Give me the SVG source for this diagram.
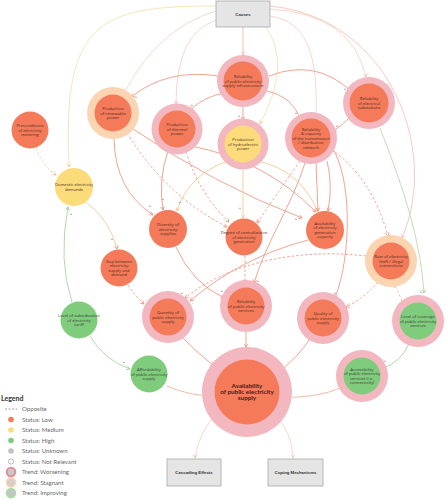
<svg xmlns="http://www.w3.org/2000/svg" width="446" height="500" viewBox="0 0 446 500">
<style>
.e{fill:none;stroke-width:0.9}
.o{stroke:#f09a84}
.p{stroke:#f6d2c7}
.py{stroke:#f5e2b4}
.g{stroke:#a6d69f}
.y{stroke:#f4c996}
.d{stroke-dasharray:2.5,2}
.ring-w{fill:#f3b7c0}
.ring-s{fill:#fbd5b2}
.low{fill:#f47a59}
.med{fill:#fcdc7a}
.high{fill:#80cc7d}
.t{font-family:"Open Sans","DejaVu Sans",sans-serif;font-size:4.2px;fill:#4d2c25;text-anchor:middle}
.tg{fill:#3a3a3a}
.tm{font-family:Lato,"Liberation Sans",sans-serif;font-size:6.3px;font-weight:bold;fill:#3d1f18;text-anchor:middle}
.box{fill:#e5e5e5;stroke:#a8a8a8;stroke-width:0.8}
.bt{font-family:"Liberation Sans",Arial,sans-serif;font-size:4.3px;font-weight:bold;fill:#333;text-anchor:middle}
.s{font-family:"Liberation Sans",Arial,sans-serif;font-size:4px;fill:#444;text-anchor:middle}
.lg{font-family:Lato,"Liberation Sans",sans-serif;font-size:6.1px;fill:#6a6a6a}
</style>
<defs>
<marker id="ao" viewBox="0 0 6 6" refX="5" refY="3" markerWidth="5" markerHeight="5" markerUnits="userSpaceOnUse" orient="auto"><path d="M1,0.8 L5,3 L1,5.2" fill="none" stroke="#ee8e76" stroke-width="0.9"/></marker>
<marker id="ap" viewBox="0 0 6 6" refX="5" refY="3" markerWidth="5" markerHeight="5" markerUnits="userSpaceOnUse" orient="auto"><path d="M1,0.8 L5,3 L1,5.2" fill="none" stroke="#f0b9a9" stroke-width="0.9"/></marker>
<marker id="ay" viewBox="0 0 6 6" refX="5" refY="3" markerWidth="5" markerHeight="5" markerUnits="userSpaceOnUse" orient="auto"><path d="M1,0.8 L5,3 L1,5.2" fill="none" stroke="#f2c486" stroke-width="0.9"/></marker>
<marker id="ag" viewBox="0 0 6 6" refX="5" refY="3" markerWidth="5" markerHeight="5" markerUnits="userSpaceOnUse" orient="auto"><path d="M1,0.8 L5,3 L1,5.2" fill="none" stroke="#8fcc88" stroke-width="0.9"/></marker>
</defs>
<rect width="446" height="500" fill="#ffffff"/>

<g id="connectors">
<path class="e p" d="M243,27 L243,55" marker-end="url(#ap)" style="stroke:#f3b9a8"/>
<path class="e p" d="M216,11 Q158,28 124,93" marker-end="url(#ap)"/>
<path class="e p" d="M217,20 Q176,32 176,104" marker-end="url(#ap)"/>
<path class="e py" d="M216,6 C100,6 62,20 69,167" marker-end="url(#ay)"/>
<path class="e py" d="M266,27 Q292,65 260,124" marker-end="url(#ay)"/>
<path class="e p" d="M270,16 C308,22 318,55 316,119" marker-end="url(#ap)"/>
<path class="e p" d="M270,9 Q352,14 366,77" marker-end="url(#ap)"/>
<path class="e p" d="M270,6 C390,18 440,150 402,238" marker-end="url(#ap)" style="stroke:#f4c4b6"/>
<path class="e g" d="M380,128 C398,175 420,232 424,293" marker-end="url(#ag)" style="stroke:#bcd8ad"/>
<path class="e o" d="M218,76 Q168,68 131,97" marker-end="url(#ao)"/>
<path class="e o" d="M225,93 Q205,96 190,110" marker-end="url(#ao)"/>
<path class="e o" d="M243,107 L243,120" marker-end="url(#ao)"/>
<path class="e o" d="M267,91 Q292,96 301,120" marker-end="url(#ao)"/>
<path class="e o" d="M269,76 Q315,58 351,91" marker-end="url(#ao)"/>
<path class="e o" d="M114,139 Q115,190 153,215" marker-end="url(#ao)"/>
<path class="e o d" d="M127,133 Q165,195 227,227" marker-end="url(#ao)"/>
<path class="e o" d="M130,127 Q215,185 302,218" marker-end="url(#ao)"/>
<path class="e o" d="M168,151 Q158,180 163,210" marker-end="url(#ao)"/>
<path class="e o d" d="M186,152 Q200,195 229,222" marker-end="url(#ao)"/>
<path class="e o" d="M191,146 Q265,160 316,212" marker-end="url(#ao)"/>
<path class="e y" d="M228,161 Q188,175 177,211" marker-end="url(#ay)"/>
<path class="e y" d="M243,169 L243,218" marker-end="url(#ay)"/>
<path class="e y" d="M258,161 Q300,170 318,212" marker-end="url(#ay)"/>
<path class="e o" d="M350,117 Q342,126 333,131" marker-end="url(#ao)"/>
<path class="e o" d="M316,163 L318,211" marker-end="url(#ao)"/>
<path class="e o" d="M327,161 Q333,185 328,211" marker-end="url(#ao)"/>
<path class="e o d" d="M300,161 Q276,195 257,223" marker-end="url(#ao)"/>
<path class="e o" d="M305,163 C292,205 267,240 254,283" marker-end="url(#ao)"/>
<path class="e o" d="M331,146 C352,175 352,255 335,298" marker-end="url(#ao)"/>
<path class="e o d" d="M332,150 Q372,178 388,236" marker-end="url(#ao)"/>
<path class="e y" d="M86,202 Q110,220 117,249" marker-end="url(#ao)"/>
<path class="e y d" d="M36,148 Q42,165 56,175" marker-end="url(#ay)"/>
<path class="e g" d="M72,302 Q58,260 68,207" marker-end="url(#ag)"/>
<path class="e g" d="M90,336 Q104,360 130,369" marker-end="url(#ag)"/>
<path class="e o d" d="M128,285 Q136,297 144,304" marker-end="url(#ao)"/>
<path class="e o" d="M176,247 Q192,283 224,298" marker-end="url(#ao)"/>
<path class="e o d" d="M245,256 L245,283" marker-end="url(#ao)"/>
<path class="e o" d="M308,240 Q240,258 190,301" marker-end="url(#ao)"/>
<path class="e o d" d="M366,256 C300,248 230,262 185,298" marker-end="url(#ao)"/>
<path class="e o d" d="M378,282 Q362,300 346,307" marker-end="url(#ao)"/>
<path class="e o d" d="M402,301 Q398,291 394,284" marker-end="url(#ao)" style="stroke:#e9b39a"/>
<path class="e g" d="M410,342 Q402,362 381,369" marker-end="url(#ag)"/>
<path class="e o" d="M178,333 Q196,352 214,366" marker-end="url(#ao)"/>
<path class="e o" d="M246,332 L246,347" marker-end="url(#ao)"/>
<path class="e o" d="M312,336 Q296,360 277,373" marker-end="url(#ao)"/>
<path class="e o" d="M167,386 Q190,396 213,396" marker-end="url(#ao)" style="stroke:#edb39d"/>
<path class="e o" d="M343,387 Q315,399 281,397" marker-end="url(#ao)" style="stroke:#edb39d"/>
<path class="e p" d="M219,412 Q199,430 195,458" marker-end="url(#ap)"/>
<path class="e p" d="M273,413 Q292,430 293,458" marker-end="url(#ap)"/>
<text class="s" x="239" y="117">+</text>
<text class="s" x="192" y="106">+</text>
<text class="s" x="296" y="114">+</text>
<text class="s" x="345" y="90">+</text>
<text class="s" x="136" y="98">+</text>
<text class="s" x="337" y="127">+</text>
<text class="s" x="150" y="207">+</text>
<text class="s" x="163" y="200">+</text>
<text class="s" x="180" y="203">+</text>
<text class="s" x="240" y="209">+</text>
<text class="s" x="224" y="220">-</text>
<text class="s" x="296" y="220">+</text>
<text class="s" x="112" y="240">+</text>
<text class="s" x="71" y="215">+</text>
<text class="s" x="52" y="172">-</text>
<text class="s" x="124" y="363">+</text>
<text class="s" x="215" y="366">+</text>
<text class="s" x="207" y="393">+</text>
<text class="s" x="243" y="351">+</text>
<text class="s" x="279" y="367">+</text>
<text class="s" x="288" y="392">+</text>
<text class="s" x="385" y="362">+</text>
<text class="s" x="335" y="294">+</text>
<text class="s" x="421" y="293">+</text>
<text class="s" x="349" y="304">-</text>
<text class="s" x="146" y="301">-</text>
<text class="s" x="222" y="292">+</text>
<text class="s" x="258" y="282">+</text>
<text class="s" x="193" y="304">-</text>
<text class="s" x="182" y="294">+</text>
<text class="s" x="384" y="234">-</text>
</g>

<g id="causes"><rect class="box" x="216" y="1" width="54" height="26"/><text class="bt" x="243" y="15.5">Causes</text></g>

<g id="infrastructure"><circle class="ring-w" cx="243" cy="81" r="26"/><circle class="low" cx="243" cy="81" r="19.5"/>
<text class="t" x="243" y="78">Reliability</text><text class="t" x="243" y="82.5">of public electricity</text><text class="t" x="243" y="87">supply infrastructure</text></g>

<g id="renewable"><circle class="ring-s" cx="113" cy="113" r="26"/><circle class="low" cx="113" cy="113" r="18.5"/>
<text class="t" x="113" y="110">Production</text><text class="t" x="113" y="114.5">of renewable</text><text class="t" x="113" y="119">power</text></g>

<g id="metering"><circle class="low" cx="30" cy="130" r="18.5"/>
<text class="t" x="30" y="127">Preconditions</text><text class="t" x="30" y="131.5">of electricity</text><text class="t" x="30" y="136">metering</text></g>

<g id="thermal"><circle class="ring-w" cx="177" cy="129" r="25.5"/><circle class="low" cx="177" cy="129" r="18.5"/>
<text class="t" x="177" y="126">Production</text><text class="t" x="177" y="130.5">of thermal</text><text class="t" x="177" y="135">power</text></g>

<g id="hydro"><circle class="ring-w" cx="243" cy="144" r="25.5"/><circle class="med" cx="243" cy="144" r="18.5"/>
<text class="t" x="243" y="141">Production</text><text class="t" x="243" y="145.5">of hydroelectric</text><text class="t" x="243" y="150">power</text></g>

<g id="substations"><circle class="ring-w" cx="369" cy="103" r="26"/><circle class="low" cx="369" cy="103" r="19.5"/>
<text class="t" x="369" y="100">Reliability</text><text class="t" x="369" y="104.5">of electrical</text><text class="t" x="369" y="109">substations</text></g>

<g id="transmission"><circle class="ring-w" cx="311" cy="138" r="26"/><circle class="low" cx="311" cy="138" r="19.5"/>
<text class="t" x="311" y="130.5">Reliability</text><text class="t" x="311" y="135">&amp; capacity</text><text class="t" x="311" y="139.5">of the transmission</text><text class="t" x="311" y="144">/ distribution</text><text class="t" x="311" y="148.5">network</text></g>

<g id="domestic"><circle class="med" cx="74" cy="187" r="19"/>
<text class="t" x="74" y="186.3">Domestic electricity</text><text class="t" x="74" y="190.8">demands</text></g>

<g id="gap"><circle class="low" cx="119" cy="268" r="18.5"/>
<text class="t" x="119" y="262.8">Gap between</text><text class="t" x="119" y="267.3">electricity</text><text class="t" x="119" y="271.8">supply and</text><text class="t" x="119" y="276.3">demand</text></g>

<g id="diversity"><circle class="low" cx="168" cy="229" r="19"/>
<text class="t" x="168" y="226">Diversity of</text><text class="t" x="168" y="230.5">electricity</text><text class="t" x="168" y="235">supplies</text></g>

<g id="centralization"><circle class="low" cx="244" cy="237" r="18.5"/>
<text class="t" x="244" y="234">Degree of centralization</text><text class="t" x="244" y="238.5">of electricity</text><text class="t" x="244" y="243">generation</text></g>

<g id="generation-capacity"><circle class="low" cx="325" cy="230" r="19"/>
<text class="t" x="325" y="224.8">Availability</text><text class="t" x="325" y="229.3">of electricity</text><text class="t" x="325" y="233.8">generation</text><text class="t" x="325" y="238.3">capacity</text></g>

<g id="theft"><circle class="ring-s" cx="391" cy="261" r="26"/><circle class="low" cx="391" cy="261" r="18.5"/>
<text class="t" x="391" y="258">Rate of electricity</text><text class="t" x="391" y="262.5">theft / illegal</text><text class="t" x="391" y="267">connections</text></g>

<g id="quantity"><circle class="ring-w" cx="168" cy="317" r="26"/><circle class="low" cx="168" cy="317" r="18.5"/>
<text class="t" x="168" y="314">Quantity of</text><text class="t" x="168" y="318.5">public electricity</text><text class="t" x="168" y="323">supply</text></g>

<g id="reliability-services"><circle class="ring-w" cx="246" cy="306" r="26"/><circle class="low" cx="246" cy="306" r="18.5"/>
<text class="t" x="246" y="303">Reliability</text><text class="t" x="246" y="307.5">of public electricity</text><text class="t" x="246" y="312">services</text></g>

<g id="quality"><circle class="ring-w" cx="323" cy="318" r="26"/><circle class="low" cx="323" cy="318" r="18.5"/>
<text class="t" x="323" y="315">Quality of</text><text class="t" x="323" y="319.5">public electricity</text><text class="t" x="323" y="324">supply</text></g>

<g id="coverage"><circle class="ring-w" cx="418" cy="321" r="26"/><circle class="high" cx="418" cy="321" r="18.5"/>
<text class="t tg" x="418" y="318">Level of coverage</text><text class="t tg" x="418" y="322.5">of public electricity</text><text class="t tg" x="418" y="327">services</text></g>

<g id="subsidization"><circle class="high" cx="79" cy="320" r="18.5"/>
<text class="t tg" x="79" y="317">Level of subsidization</text><text class="t tg" x="79" y="321.5">of electricity</text><text class="t tg" x="79" y="326">tariff</text></g>

<g id="affordability"><circle class="high" cx="149" cy="374" r="18.5"/>
<text class="t tg" x="149" y="371">Affordability</text><text class="t tg" x="149" y="375.5">of public electricity</text><text class="t tg" x="149" y="380">supply</text></g>

<g id="availability"><circle class="ring-w" cx="247" cy="392" r="45"/><circle class="low" cx="247" cy="392" r="32.5"/>
<text class="tm" x="247" y="388">Availability</text><text class="tm" x="247" y="394">of public electricity</text><text class="tm" x="247" y="400">supply</text></g>

<g id="accessibility"><circle class="ring-w" cx="362" cy="376" r="26"/><circle class="high" cx="362" cy="376" r="18.5"/>
<text class="t tg" x="362" y="370.8">Accessibility</text><text class="t tg" x="362" y="375.3">of public electricity</text><text class="t tg" x="362" y="379.8">services (i.e.,</text><text class="t tg" x="362" y="384.3">connectivity)</text></g>

<g id="cascading"><rect class="box" x="167" y="459" width="54" height="27"/><text class="bt" x="194" y="474">Cascading Effects</text></g>
<g id="coping"><rect class="box" x="268" y="459" width="55" height="27"/><text class="bt" x="295.5" y="474">Coping Mechanisms</text></g>

<g id="legend">
<text x="1" y="400.5" font-family="Lato,'Liberation Sans',sans-serif" font-size="7" font-weight="bold" fill="#333">Legend</text>
<line x1="5" y1="409" x2="17" y2="409" stroke="#888" stroke-width="0.8" stroke-dasharray="2,1.5"/>
<text class="lg" x="22" y="411">Opposite</text>
<circle cx="11" cy="419.5" r="2.8" fill="#f47a59"/><text class="lg" x="22" y="421.5">Status: Low</text>
<circle cx="11" cy="430" r="2.8" fill="#fcdc7a"/><text class="lg" x="22" y="432">Status: Medium</text>
<circle cx="11" cy="440.5" r="2.8" fill="#80cc7d"/><text class="lg" x="22" y="442.5">Status: High</text>
<circle cx="11" cy="451" r="2.8" fill="#c2c2c2"/><text class="lg" x="22" y="453">Status: Unknown</text>
<circle cx="11" cy="461.5" r="2.6" fill="#fff" stroke="#888" stroke-width="0.6"/><text class="lg" x="22" y="463.5">Status: Not Relevant</text>
<circle cx="11" cy="472" r="4.3" fill="#c8c8c8" stroke="#e48690" stroke-width="1.8"/><text class="lg" x="22" y="474">Trend: Worsening</text>
<circle cx="11" cy="482.5" r="4.3" fill="#cfcfcf" stroke="#fbd0a8" stroke-width="1.8"/><text class="lg" x="22" y="484.5">Trend: Stagnant</text>
<circle cx="11" cy="493" r="4.3" fill="#c5c5c5" stroke="#a6dca0" stroke-width="1.8"/><text class="lg" x="22" y="495">Trend: Improving</text>
</g>
</svg>
